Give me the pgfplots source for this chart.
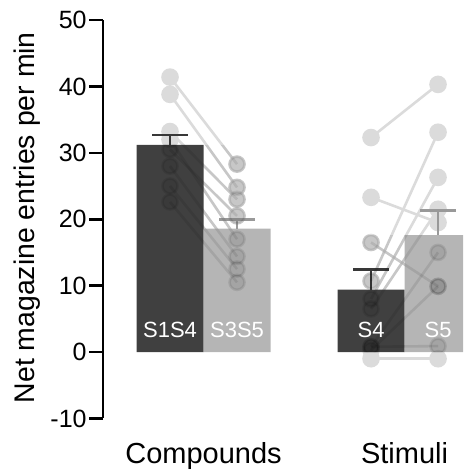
\documentclass[border=0pt]{standalone}
\usepackage{fontspec}
\setmainfont{Liberation Sans}
\usepackage{pgfplots}
\usepackage{pgfplotstable}
\pgfplotsset{compat=1.18}
\definecolor{darkbar}{gray}{0.25}
\definecolor{lightbar}{gray}{0.71}
\definecolor{darkerr}{gray}{0.22}
\definecolor{lighterr}{gray}{0.60}
\definecolor{ptgray}{gray}{0.86}
\pgfplotstableread{
xa ya xb yb
0 41.4 1 28.3
0 38.8 1 24.8
0 33.2 1 23.0
0 32.0 1 17.0
0 30.5 1 20.5
0 28.0 1 14.4
0 25.0 1 12.5
0 22.6 1 10.5
3 32.3 4 40.3
3 23.3 4 19.5
3 16.5 4 9.9
3 10.7 4 33.1
3 8.0 4 26.3
3 6.5 4 21.5
3 0.8 4 15.0
3 0.3 4 9.9
3 0.8 4 0.9
3 -1.0 4 -1.0
}\subjects
\begin{document}
\begin{tikzpicture}
\pgfplotsset{
  common/.style={
    scale only axis, width=180pt, height=199.25pt,
    xmin=-1, xmax=4.373, ymin=-10, ymax=50,
    clip marker paths=true,
  },
}
\newcommand{\pairs}[1]{%
  \pgfplotstablegetrowsof{\subjects}%
  \pgfmathtruncatemacro{\nrows}{\pgfplotsretval-1}%
  \pgfplotsinvokeforeach{0,...,\nrows}{%
    \pgfplotstablegetelem{##1}{xa}\of\subjects \edef\xa{\pgfplotsretval}%
    \pgfplotstablegetelem{##1}{ya}\of\subjects \edef\ya{\pgfplotsretval}%
    \pgfplotstablegetelem{##1}{xb}\of\subjects \edef\xb{\pgfplotsretval}%
    \pgfplotstablegetelem{##1}{yb}\of\subjects \edef\yb{\pgfplotsretval}%
    \edef\temp{\noexpand\addplot[#1] coordinates {(\xa,\ya) (\xb,\yb)};}%
    \temp
  }%
}
\begin{axis}[common, name=ax,
  axis y line=left, axis x line=bottom,
  x axis line style={draw=none},
  y axis line style={-, line width=1.3pt},
  xtick={0.5,3.5}, xticklabels={Compounds,Stimuli},
  x tick style={draw=none},
  ytick={-10,0,...,50},
  y tick style={line width=1.3pt, black},
  tick align=outside, major tick length=7pt,
  /pgf/number format/assume math mode=true,
  yticklabel style={font=\fontsize{12.5}{14}\selectfont, inner sep=1pt},
  xticklabel style={font=\fontsize{14.5}{16}\selectfont, inner sep=0pt, anchor=north, yshift=-5pt},
  ylabel={Net magazine entries per min},
  ylabel style={font=\fontsize{14.2}{16}\selectfont, at={(axis description cs:-0.1889,0.504)}, anchor=base},
]
\pairs{ptgray, line width=1.3pt, mark=*, mark size=3.75pt, mark options={solid, fill=ptgray, draw=ptgray}}
\addplot[ybar, bar width=1, bar shift=0pt, fill=darkbar, draw=none,
  error bars/.cd, y dir=plus, y explicit, error mark=|,
  error bar style={line width=1.3pt, darkerr},
  error mark options={mark size=8.9pt, line width=1.3pt, darkerr}]
  coordinates {(0,31.2) +- (0,1.5) (3,9.4) +- (0,3.0)};
\addplot[ybar, bar width=1, bar shift=0pt, fill=lightbar, draw=none,
  error bars/.cd, y dir=plus, y explicit, error mark=|,
  error bar style={line width=1.3pt, lighterr},
  error mark options={mark size=8.9pt, line width=1.3pt, lighterr}]
  coordinates {(1,18.6) +- (0,1.4) (4,17.6) +- (0,3.7)};
\coordinate (l1) at (axis cs:0,3.3);
\coordinate (l2) at (axis cs:1,3.3);
\coordinate (l3) at (axis cs:3,3.3);
\coordinate (l4) at (axis cs:4,3.3);
\coordinate (c1) at (axis cs:-0.5,0);
\coordinate (d1) at (axis cs:1.5,31.2);
\coordinate (c2) at (axis cs:2.5,0);
\coordinate (d2) at (axis cs:4.373,17.6);
\end{axis}
\begin{scope}
\clip (c1) rectangle (d1) (c2) rectangle (d2);
\begin{axis}[common, hide axis, at={(ax.south west)}, anchor=south west]
\pairs{black, opacity=0.09, line width=1.3pt, mark=*, mark size=3.75pt, mark options={solid, fill=black, draw=none}}
\end{axis}
\end{scope}
\begin{scope}[every node/.style={white, font=\fontsize{11}{13}\selectfont, anchor=center}]
\node at (l1) {S1S4};
\node at (l2) {S3S5};
\node at (l3) {S4};
\node at (l4) {S5};
\end{scope}
\path ([xshift=-51.5pt, yshift=10pt]ax.north west) ([yshift=-26.75pt]ax.south east);
\end{tikzpicture}
\end{document}
